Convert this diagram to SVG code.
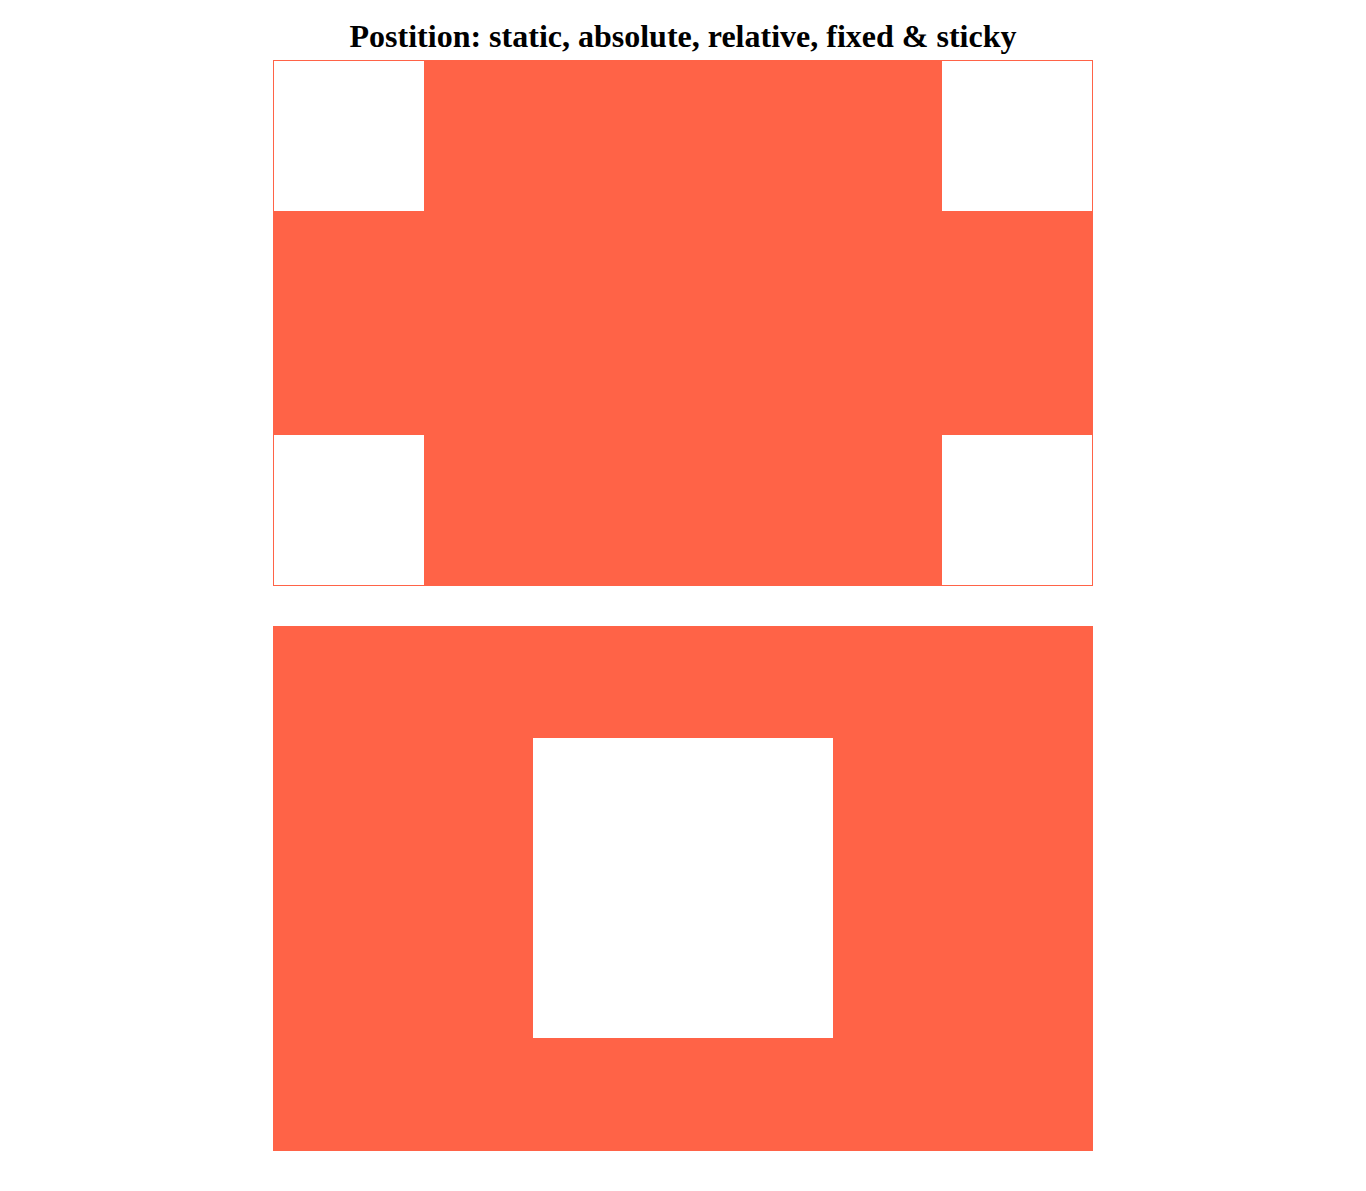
<svg xmlns="http://www.w3.org/2000/svg" width="1366" height="1191" viewBox="0 0 1366 1191">
<style>
.t{font-family:"Liberation Serif","Times New Roman",serif;font-weight:bold;font-size:32px;fill:#000}
.o{fill:#FF6347}
.w{fill:#FFFFFF}
</style>
<rect width="1366" height="1191" fill="#FFFFFF"/>
<text class="t" x="683" y="47" text-anchor="middle">Postition: static, absolute, relative, fixed &amp; sticky</text>
<g id="box1">
<rect x="273.5" y="60.5" width="819" height="525" fill="#FFFFFF" stroke="#FF6347" stroke-width="1"/>
<rect class="o" x="424" y="61" width="518" height="524"/>
<rect class="o" x="274" y="211" width="818" height="224"/>
</g>
<g id="box2">
<rect class="o" x="273" y="626" width="820" height="525"/>
<rect class="w" x="533" y="738" width="300" height="300"/>
</g>
</svg>
